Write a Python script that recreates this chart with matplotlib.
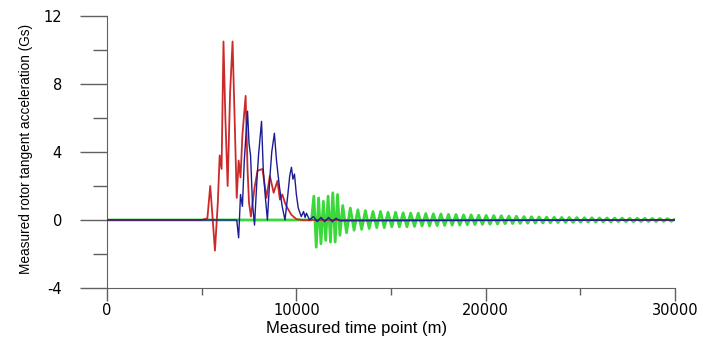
import numpy as np
import matplotlib.pyplot as plt
from matplotlib.ticker import MultipleLocator

# red trace (time point, Gs)
red_x = [0, 5000, 5300, 5450, 5550, 5700, 5850, 5950, 6050, 6150, 6250, 6370,
         6500, 6630, 6750, 6850, 6950, 7050, 7150, 7320, 7420, 7500, 7600,
         7790, 7950, 8210, 8420, 8600, 8800, 9000, 9130, 9260, 9400, 9530,
         9740, 10000, 10300, 30000]
red_y = [0, 0, 0.1, 2.0, 0.5, -1.8, 1.0, 3.8, 3.0, 10.5, 6.0, 2.0,
         7.5, 10.5, 5.5, 1.3, 3.5, 2.5, 5.0, 7.3, 3.0, 1.0, 0.2,
         1.9, 2.9, 3.0, 1.3, 2.6, 1.6, 2.3, 1.2, 1.5, 1.0, 0.7,
         0.3, 0.05, 0, 0]

# blue trace
blue_x = [0, 6700, 6850, 6950, 7050, 7150, 7250, 7420, 7500, 7580, 7680, 7790,
          7900, 8000, 8160, 8250, 8350, 8470, 8600, 8700, 8840, 8950, 9100,
          9250, 9400, 9550, 9650, 9740, 9820, 9900, 10000, 10100, 10260,
          10380, 10460, 10530, 10700, 10900, 11100, 11300, 11500, 11700,
          11900, 12100, 12300, 30000]
blue_y = [0, 0, 0, -1.05, 1.5, 0.8, 3.5, 6.4, 4.5, 3.8, 1.0, -0.3,
          2.0, 3.8, 5.8, 3.0, 1.5, 0.0, 2.5, 4.0, 5.1, 3.5, 2.0,
          0.8, 0.0, 1.5, 2.6, 3.1, 2.4, 2.7, 1.5, 0.7, 0.2,
          0.5, 0.15, 0.4, 0.0, 0.2, -0.1, 0.15, -0.1, 0.15,
          -0.1, 0.1, -0.05, 0]

# green trace: flat part, strong burst, then slowly decaying ringing
green_flat_x = [0, 10800]
green_flat_y = [0, 0]
green_burst = [1.4, -1.6, 1.3, -1.4, 1.1, -1.2, 1.4, -1.3, 1.6, -1.3, 1.5, -0.9]
green_ring = [0.85, -0.75, 0.7, -0.6, 0.6, -0.55, 0.55, -0.5, 0.5, -0.45,
              0.5, -0.45, 0.45, -0.4, 0.45, -0.4, 0.42, -0.4, 0.4, -0.38,
              0.4, -0.35, 0.38, -0.35, 0.36, -0.33, 0.35, -0.32, 0.33, -0.3,
              0.32, -0.3, 0.3, -0.28, 0.3, -0.27, 0.28, -0.26, 0.27, -0.25,
              0.26, -0.24, 0.25, -0.22, 0.23, -0.21, 0.22, -0.2, 0.2, -0.19,
              0.19, -0.18, 0.18, -0.17, 0.17, -0.16, 0.16, -0.15, 0.15, -0.14,
              0.15, -0.14, 0.14, -0.13, 0.13, -0.12, 0.13, -0.12, 0.12, -0.11,
              0.12, -0.11, 0.11, -0.1, 0.11, -0.1, 0.1, -0.1, 0.1, -0.09,
              0.1, -0.09, 0.09, -0.09, 0.09, -0.08, 0.08, -0.08, 0.05]

green_x = (green_flat_x
           + list(np.linspace(10925, 12300, len(green_burst)))
           + list(np.linspace(12450, 30000, len(green_ring))))
green_y = green_flat_y + green_burst + green_ring

plt.rcParams['font.family'] = ['Liberation Sans', 'DejaVu Sans']
plt.rcParams['axes.unicode_minus'] = False

fig = plt.figure(figsize=(7.09, 3.40), dpi=100)
ax = fig.add_axes([0.151, 0.153, 0.801, 0.8])

ax.plot(green_x, green_y, color='#3ad83a', lw=2.0, zorder=1)
ax.plot(red_x, red_y, color='#cc2a2a', lw=1.3, zorder=2)
ax.plot(blue_x, blue_y, color='#1c1c96', lw=1.0, zorder=3)

ax.set_xlim(0, 30000)
ax.set_ylim(-4, 12)
ax.xaxis.set_major_locator(MultipleLocator(10000))
ax.xaxis.set_minor_locator(MultipleLocator(5000))
ax.yaxis.set_major_locator(MultipleLocator(4))
ax.yaxis.set_minor_locator(MultipleLocator(2))

for s in ['top', 'right']:
    ax.spines[s].set_visible(False)
for s in ['left', 'bottom']:
    ax.spines[s].set_color('#606060')

ax.tick_params(axis='x', which='major', length=9, width=1, color='#606060',
               pad=2)
ax.tick_params(axis='x', which='minor', length=5, width=1, color='#606060')
ax.tick_params(axis='y', which='major', length=19.5, width=1, color='#606060',
               pad=13)
ax.tick_params(axis='y', which='minor', length=10, width=1, color='#606060')
for lab in ax.get_xticklabels() + ax.get_yticklabels():
    lab.set_family('DejaVu Sans')
    lab.set_fontsize(10.5)

ax.set_xlabel('Measured time point (m)', fontsize=12)
ax.xaxis.set_label_coords(0.44, -0.121)
ax.set_ylabel('Measured rotor tangent acceleration (Gs)', fontsize=9.8)
ax.yaxis.set_label_coords(-0.13, 0.51)

fig.savefig('out.png', dpi=100)
